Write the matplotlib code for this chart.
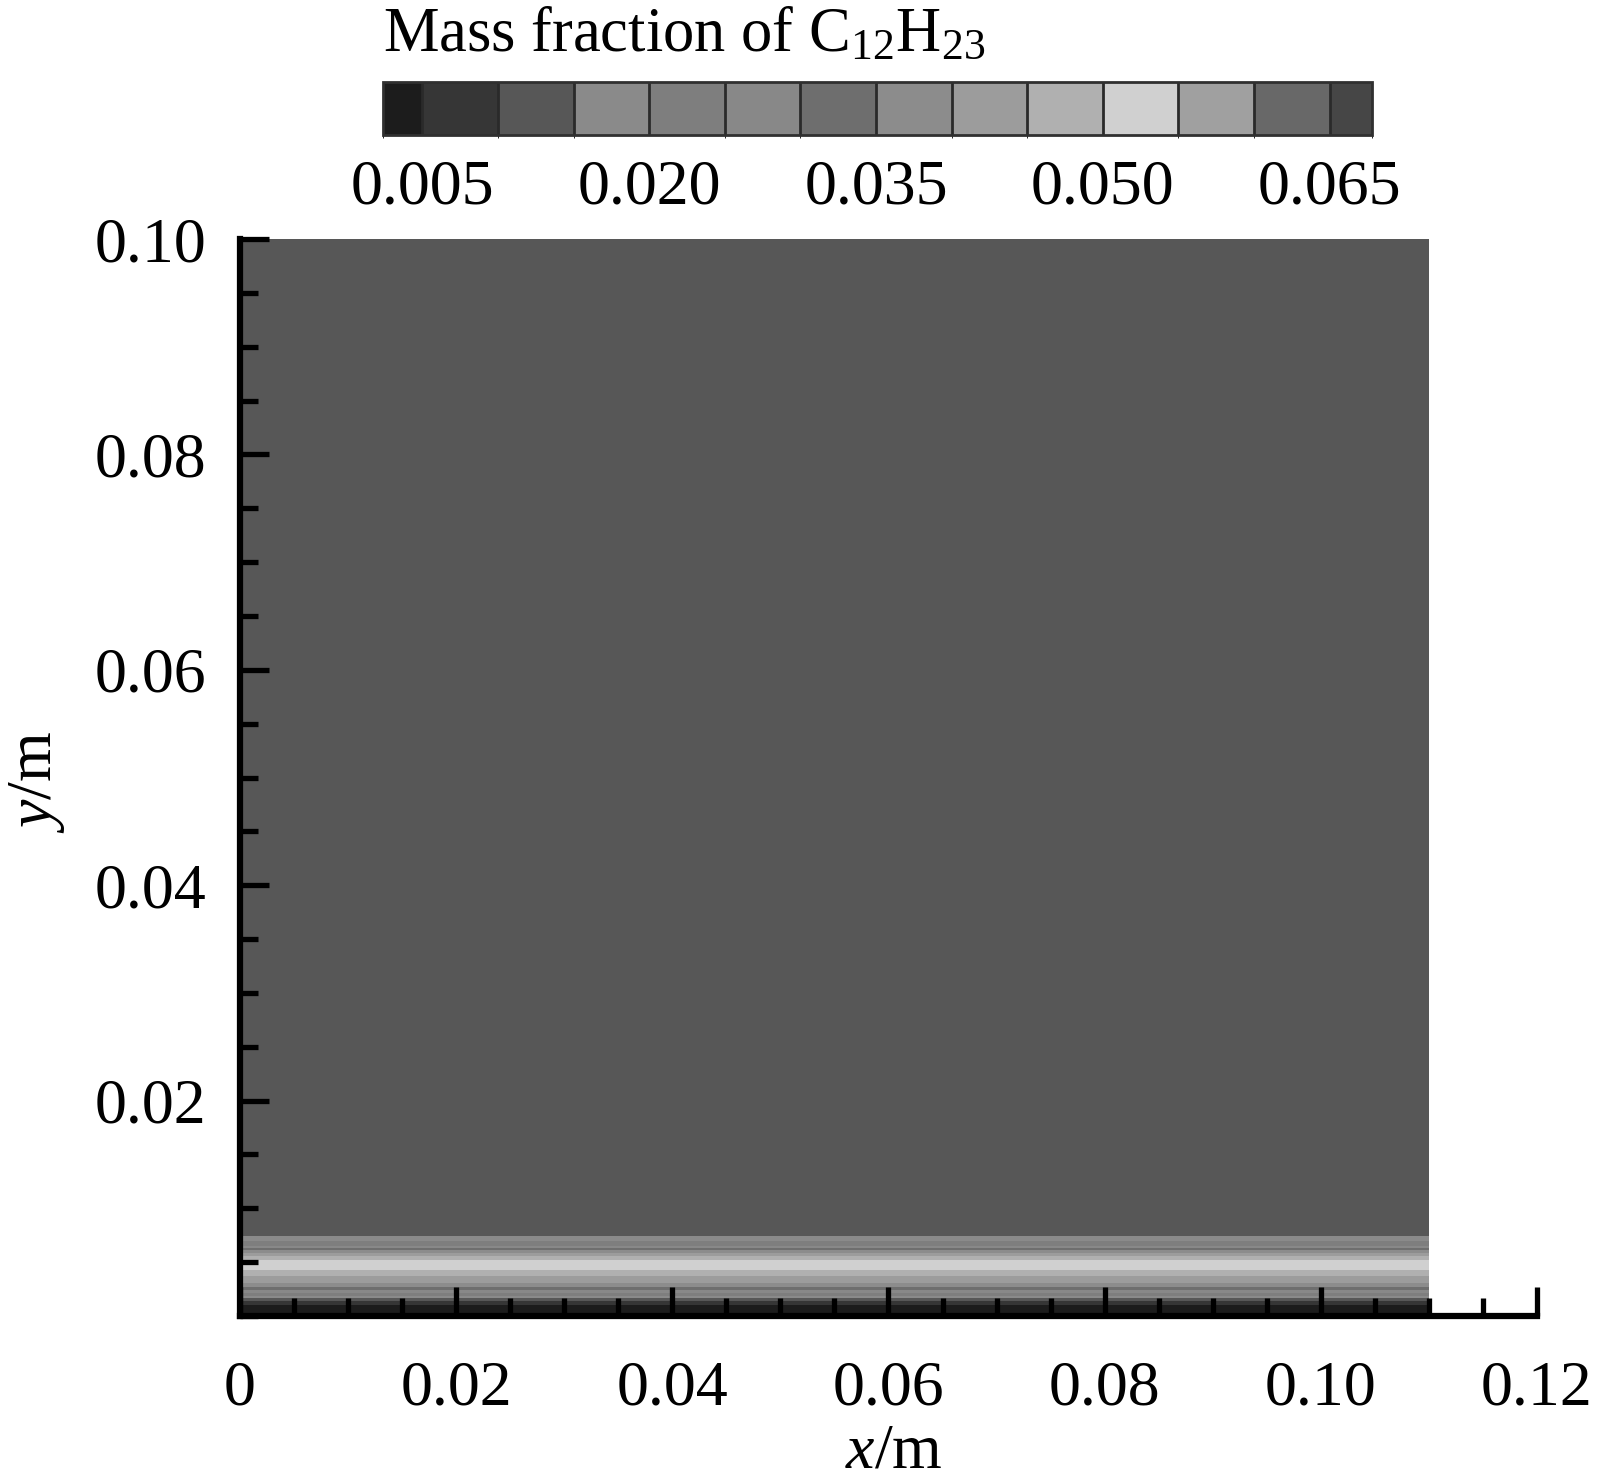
import matplotlib
matplotlib.use("Agg")
import matplotlib.pyplot as plt
import numpy as np
from matplotlib.colors import ListedColormap, BoundaryNorm

plt.rcParams.update({
    'font.family': 'Liberation Serif',
    'mathtext.fontset': 'custom',
    'mathtext.rm': 'Liberation Serif',
    'mathtext.it': 'Liberation Serif:italic',
    'font.size': 46,
})

# contour levels of the mass fraction (colour bar band edges)
levels = [0.0024, 0.005, 0.010, 0.015, 0.020, 0.025, 0.030, 0.035,
          0.040, 0.045, 0.050, 0.055, 0.060, 0.065, 0.0678]
# grey shade of each band
band_colors = ['#1c1c1c', '#363636', '#575757', '#8a8a8a', '#7e7e7e',
               '#888888', '#6e6e6e', '#8c8c8c', '#9c9c9c', '#b0b0b0',
               '#d0d0d0', '#a0a0a0', '#686868', '#464646']
cbar_ticks = [0.005, 0.020, 0.035, 0.050, 0.065]

# wall-normal profile of C12H23 mass fraction (same along x)
y_prof = [0.0, 0.0010, 0.0015, 0.0020, 0.0025, 0.0031, 0.0040, 0.0046,
          0.0052, 0.0058, 0.0065, 0.0075, 0.0090, 0.10]
c_prof = [0.003, 0.0042, 0.012, 0.022, 0.032, 0.040, 0.047, 0.053,
          0.050, 0.042, 0.025, 0.014, 0.0125, 0.0125]
x_cols = [0.0, 0.11]

xticks = [0, 0.02, 0.04, 0.06, 0.08, 0.10, 0.12]
xtick_labels = ['0', '0.02', '0.04', '0.06', '0.08', '0.10', '0.12']
yticks = [0.02, 0.04, 0.06, 0.08, 0.10]
ytick_labels = ['0.02', '0.04', '0.06', '0.08', '0.10']

W, H = 1603, 1483
fig = plt.figure(figsize=(W / 100, H / 100), dpi=100)
ax = fig.add_axes([240 / W, 1 - 1316 / H, 1297 / W, 1077 / H])

X, Y = np.meshgrid(x_cols, y_prof)
Z = np.tile(np.array(c_prof)[:, None], (1, len(x_cols)))

cmap = ListedColormap(band_colors)
norm = BoundaryNorm(levels, cmap.N)
cs = ax.contourf(X, Y, Z, levels=levels, cmap=cmap, norm=norm)

ax.set_xlim(0, 0.12)
ax.set_ylim(0, 0.10)
ax.set_xticks(xticks)
ax.set_xticklabels(xtick_labels)
ax.set_yticks(yticks)
ax.set_yticklabels(ytick_labels)
ax.set_xticks(np.arange(0, 0.1201, 0.005), minor=True)
ax.set_yticks(np.arange(0, 0.1001, 0.005), minor=True)
ax.tick_params(which='both', direction='in', width=3.8, color='black')
ax.tick_params(which='major', length=21)
ax.tick_params(which='minor', length=13)
ax.tick_params(axis='x', which='major', pad=32, labelsize=46)
ax.tick_params(axis='y', which='major', pad=24, labelsize=46)
for s in ['top', 'right']:
    ax.spines[s].set_visible(False)
for s in ['left', 'bottom']:
    ax.spines[s].set_linewidth(4.5)

fig.text(37 / W, 1 - 782 / H, '$y$/m', rotation=90, ha='center', va='center',
         fontsize=46)
fig.text(894 / W, 1 - 1468 / H, '$x$/m', ha='center', va='baseline',
         fontsize=46)

# colour bar on top
cax = fig.add_axes([383 / W, 1 - 135 / H, 989 / W, 53 / H])
cb = fig.colorbar(cs, cax=cax, orientation='horizontal', spacing='proportional')
cb.set_ticks(cbar_ticks)
cb.set_ticklabels(['%.3f' % t for t in cbar_ticks])
cax.tick_params(length=0, pad=18, labelsize=46)
cb.outline.set_edgecolor('#303030')
cb.outline.set_linewidth(2)
for lv in levels[1:-1]:
    cax.axvline(lv, color='#2a2a2a', lw=2)

fig.text(383 / W, 1 - 51 / H, 'Mass fraction of C$_{12}$H$_{23}$',
         ha='left', va='baseline', fontsize=45)

fig.savefig('out.png', dpi=100)
